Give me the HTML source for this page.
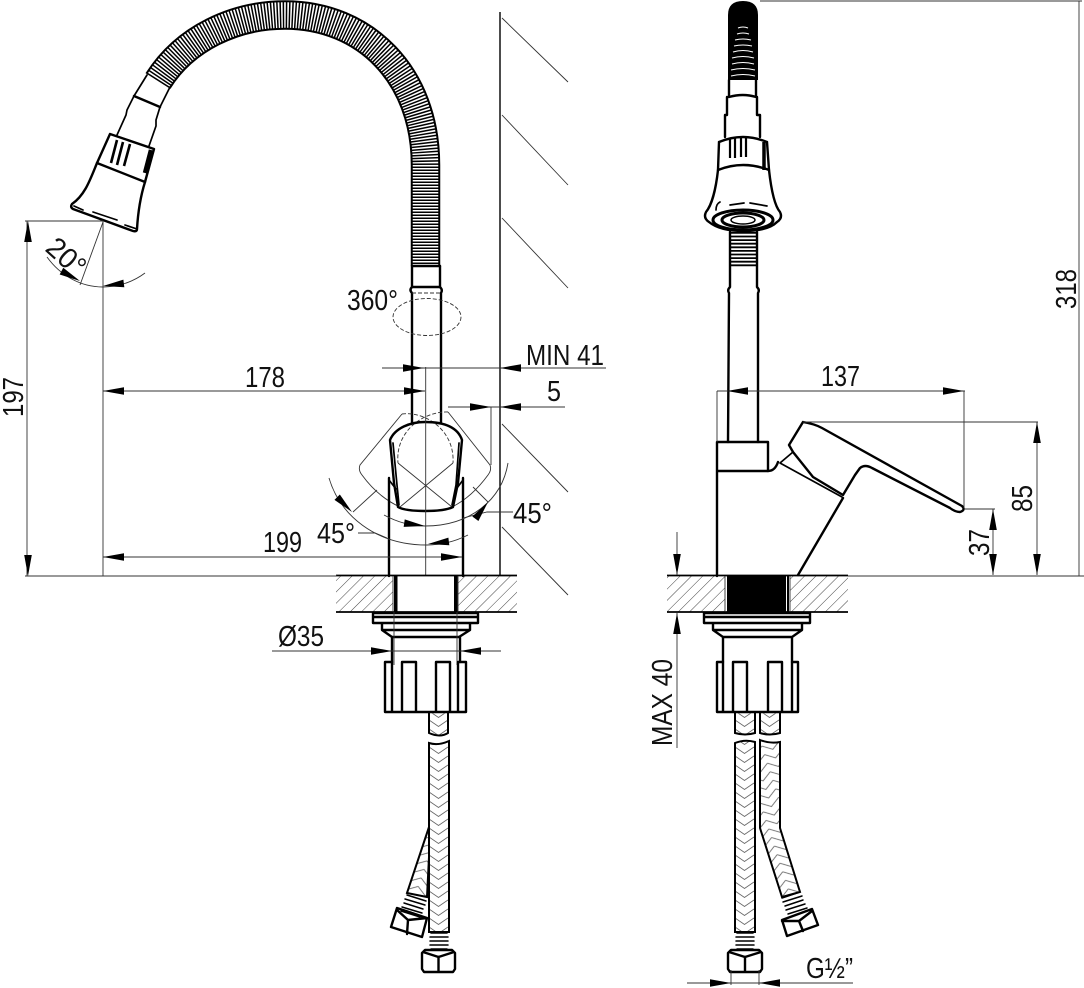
<!DOCTYPE html>
<html>
<head>
<meta charset="utf-8">
<style>
html,body{margin:0;padding:0;background:#fff;width:1084px;height:988px;overflow:hidden}
svg{display:block}
text{font-family:"Liberation Sans",sans-serif;font-size:29px;fill:#111}
.m{fill:none;stroke:#000;stroke-width:1.7;stroke-linejoin:round;stroke-linecap:round}
.b{fill:none;stroke:#000;stroke-width:2.4;stroke-linejoin:round;stroke-linecap:round}
.r{fill:none;stroke:#000;stroke-width:1.5;stroke-linecap:round}
.t{fill:none;stroke:#333;stroke-width:.9}
.d{fill:none;stroke:#333;stroke-width:.9;stroke-dasharray:4 2}
.br{stroke:#000;stroke-width:2}
</style>
</head>
<body>
<svg width="1084" height="988" viewBox="0 0 1084 988" xmlns="http://www.w3.org/2000/svg">
<defs>
<path id="a" d="M0,0L-21,-3.8L-21,3.8Z" fill="#000"/>
<pattern id="h" width="8" height="8" patternUnits="userSpaceOnUse" patternTransform="rotate(45)"><line x1="0" y1="0" x2="0" y2="8" stroke="#444" stroke-width="1"/></pattern>
<pattern id="bL" width="19" height="9" patternUnits="userSpaceOnUse" x="429"><path d="M0,0L9.5,6.5L19,0M0,9L9.5,15.5L19,9M0,-9L9.5,-2.5L19,-9" fill="none" stroke="#666" stroke-width=".9"/></pattern>
<pattern id="bA" width="19" height="9" patternUnits="userSpaceOnUse" x="735"><path d="M0,0L9.5,6.5L19,0M0,9L9.5,15.5L19,9M0,-9L9.5,-2.5L19,-9" fill="none" stroke="#666" stroke-width=".9"/></pattern>
<pattern id="bB" width="19" height="9" patternUnits="userSpaceOnUse" x="760"><path d="M0,0L9.5,6.5L19,0M0,9L9.5,15.5L19,9M0,-9L9.5,-2.5L19,-9" fill="none" stroke="#666" stroke-width=".9"/></pattern>
<pattern id="bC" width="19" height="9" patternUnits="userSpaceOnUse" patternTransform="rotate(19)"><path d="M0,0L9.5,6.5L19,0M0,9L9.5,15.5L19,9M0,-9L9.5,-2.5L19,-9" fill="none" stroke="#666" stroke-width=".9"/></pattern>
<pattern id="bD" width="19" height="9" patternUnits="userSpaceOnUse" patternTransform="rotate(-18)"><path d="M0,0L9.5,6.5L19,0M0,9L9.5,15.5L19,9M0,-9L9.5,-2.5L19,-9" fill="none" stroke="#666" stroke-width=".9"/></pattern>
</defs>

<!-- ===== LEFT VIEW ===== -->
<!-- flexible hose -->
<path d="M158,81C185,38 235,15 285,15C365,15 425.5,75 425.5,165L425.5,266" fill="none" stroke="#000" stroke-width="29.5"/>
<path d="M158,81C185,38 235,15 285,15C365,15 425.5,75 425.5,165L425.5,266" fill="none" stroke="#fff" stroke-width="25.5"/>
<path d="M158,81C185,38 235,15 285,15C365,15 425.5,75 425.5,165L425.5,266" fill="none" stroke="#000" stroke-width="27" stroke-dasharray="1.5 1.5"/>
<!-- neck -->
<path class="m" d="M147,75L134,96L127,110L126,115L117,135"/>
<path class="m" d="M170,87L160,107L156,120L156,126L149,146"/>
<path class="b" d="M134,96L160,107"/>
<!-- nut and bell -->
<path class="b" d="M110,134L154,149L145,182L97,163Z"/>
<path class="b" d="M97,163C90,180 85,195 72,204Q70,207 73,209L133,231Q137,232 137,229C138,212 140,198 145,182"/>
<path class="m" d="M74,206L83,210M93,212L117,220M125,225L137,229"/>
<path d="M117,140L111,163M123,142L117,165M130,144L124,166" stroke="#000" stroke-width="2.6" fill="none"/>
<path d="M151,150L145,173" stroke="#000" stroke-width="4.5" fill="none"/>
<!-- tube -->
<path class="b" d="M412,266L412,287Q409,290 412,293V423"/>
<path class="b" d="M440,266V287Q443,290 441,293V423"/>
<path class="b" d="M412,266H440M412,287H440"/>
<path class="d" d="M412,293H440"/>
<ellipse class="d" cx="427" cy="317" rx="34" ry="18.5"/>
<!-- dashed handle envelopes -->
<path class="t" d="M402,414L360,465Q358,470 362,475Q378,497 400,507L453,463"/>
<path class="t" d="M448,412L490,465Q492,470 488,475Q472,497 452,507L398,463"/>
<path class="d" d="M402,414C425,411 455,430 453,463M448,412C425,411 395,430 398,463"/>
<!-- body -->
<path class="b" d="M390,440C395,428 410,422 425,422C445,422 458,428 462,440L458,483L453,507Q445,511 425,511Q405,511 398,507L394,483L390,440Z"/>
<path class="m" d="M393,443L397,485L399,505M459,443L456,485L452,505"/>
<path class="b" d="M389,478V576M463,478V576"/>
<path class="m" d="M389,480L396,489M463,480L457,488"/>
<path class="t" d="M425.7,367V575"/>
<!-- wall -->
<path d="M500,12V576" stroke="#111" stroke-width="1.5"/>
<path class="t" d="M502,18L568,82M502,115L568,185M502,218L568,288M502,424L568,492M502,527L568,595"/>
<!-- counter top left -->
<rect x="336" y="576" width="57" height="36" fill="url(#h)"/>
<rect x="458" y="576" width="59" height="36" fill="url(#h)"/>
<path d="M336,575.5H517M336,612H517" stroke="#000" stroke-width="1.8"/>
<rect x="394" y="576" width="3.5" height="36" fill="#000"/>
<rect x="454" y="576" width="3.5" height="36" fill="#000"/>
<path class="t" d="M393,576V612M458,576V612"/>
<!-- flange -->
<path class="b" d="M373,613H478V623H373ZM373,617H478M382,623V630L392,637H459L470,630V623M382,630H470M392,637V662M460,637V662"/>
<path class="t" d="M394,612V665M457,612V665"/>
<path class="b" d="M385,662H392V712H385ZM402,662H416V712H402ZM436,662H450V712H436ZM458,662H466V712H458ZM385,712H466"/>
<!-- left hose -->
<path d="M429,712H448V733Q440,738 429,733Z" fill="url(#bL)" class="br"/>
<path d="M407,893L429,827V857L427,897Z" fill="url(#bC)" class="br"/>
<path d="M429,743Q438,746 449,741V932H429Z" fill="url(#bL)" class="br"/>
<path class="r" d="M431,933H447M430,937H448M430,941H448M430,945H448M431,949H447"/>
<path class="b" d="M425,950H452L455,953V969L453,972H424L422,969V953ZM423,952L438.5,957L454,952M438.5,957V972"/>
<path class="r" d="M407,895L426,901M405,899L425,905M404,903L423,909M402,907L422,913M401,911L420,917"/>
<path class="b" d="M397,908L427,918L422,937L391,927ZM397,910L408,920L427,918M408,920L407,934"/>

<!-- ===== RIGHT VIEW ===== -->
<!-- spout top -->
<path d="M728,80V15Q728,1 743,1Q758,1 758,15V80Z" fill="#000"/>
<path d="M738,28Q743,26 748,28M737,34Q743,32 749,34M735,40Q743,38 751,40M734,46Q743,44 752,46M733,52Q743,49 753,52M732,58Q743,55 754,58M732,64Q743,61 754,64M731,70Q743,67 755,70M731,76Q743,73 755,76" stroke="#fff" stroke-width="1.1" fill="none"/>
<path class="b" d="M729,80V97M756,80V97M729,97Q743,93 756,97M727,97V115M757,97V115M727,115H725M757,115H760M725,115V137M760,115V137"/>
<path class="b" d="M719,142Q743,132 767,142M719,142L718,170M767,142L769,170M718,170Q743,160 769,170"/>
<path d="M730,138V158M735,137V158M741,136V157M746,136V157" stroke="#000" stroke-width="2.2" fill="none"/>
<path d="M764,142V170" stroke="#000" stroke-width="3.5" fill="none"/>
<path class="b" d="M718,170C716,188 712,205 706,212Q703,218 709,222Q720,231 743,231Q768,231 777,222Q783,218 780,212C774,205 771,188 769,170"/>
<path class="m" d="M716,210Q716,204 720,202M730,205L744,203M750,203L767,206"/>
<ellipse cx="743" cy="220" rx="30" ry="10" fill="none" stroke="#000" stroke-width="3"/>
<ellipse cx="743" cy="220" rx="21" ry="7" fill="none" stroke="#000" stroke-width="3"/>
<ellipse cx="743" cy="220" rx="12" ry="4" fill="#fff" stroke="#000" stroke-width="1.5"/>
<path d="M743.5,232V267" fill="none" stroke="#000" stroke-width="27" stroke-dasharray="1.8 1.8"/>
<path class="b" d="M730,232V267M757,232V267M730,267V287Q727,290 729,293L728,442M757,267V287Q760,290 758,293V442"/>
<!-- head and body -->
<path class="b" d="M717,576V442H768V471H717"/>
<path class="b" d="M768,471Q775,471 778,462"/>
<path class="b" d="M843,498L798,575"/>
<path class="b" d="M789,445L803,422Q815,424 822,428L962,506Q966,510 960,512Q955,512 950,508L872,468Q865,464 860,468L855,475L843,495L813,477L793,452L789,445Z"/>
<path class="m" d="M793,452L780,463L842,497"/>
<!-- counter top right -->
<rect x="667" y="576" width="58" height="36" fill="url(#h)"/>
<rect x="790" y="576" width="58" height="36" fill="url(#h)"/>
<path d="M667,575.5H848M667,612H848" stroke="#000" stroke-width="1.8"/>
<rect x="727" y="576" width="59" height="36" fill="#000"/>
<path d="M788,576V612" stroke="#000" stroke-width="2"/>
<path class="t" d="M725,576V612M790,576V612"/>
<!-- flange right -->
<path class="b" d="M704,613H810V623H704ZM704,617H810M713,623V630L723,637H792L802,630V623M713,630H802M723,637V662M792,637V662"/>
<path class="b" d="M717,662H723V712H717ZM733,662H747V712H733ZM768,662H782V712H768ZM792,662H798V712H792ZM717,712H798"/>
<!-- right hoses -->
<path d="M735,712H755V733Q745,736 735,733Z" fill="url(#bA)" class="br"/>
<path d="M760,712H780V733Q770,736 760,733Z" fill="url(#bB)" class="br"/>
<path d="M735,743Q745,739 755,742V932H735Z" fill="url(#bA)" class="br"/>
<path d="M760,740Q770,744 780,742V828L800,892L782,897L760,828Z" fill="url(#bD)" class="br"/>
<path class="r" d="M737,933H753M736,937H754M736,941H754M736,945H754M737,949H753"/>
<path class="b" d="M731,950H759L762,953V969L760,972H730L728,969V953ZM729,952L745,957L761,952M745,957V972"/>
<path class="r" d="M782,898L800,892M783,902L802,896M785,906L803,900M786,910L805,904M788,914L807,908"/>
<path class="b" d="M782,920L812,909L818,925L787,936ZM782,921L799,921L812,911M799,921L803,931"/>

<!-- ===== DIMENSIONS ===== -->
<g class="t">
<path d="M25,221H103V576M27,221V576M25,576H337"/>
<path d="M103,222L80,285"/>
<path d="M47,257C60,275 80,287 103,287C118,287 133,282 145,273"/>
<path d="M103,391H425M382,368H606M448,407H565M491,407V465M103,557H462"/>
<path d="M329,478C340,515 375,545 427,545C442,545 456,541 468,535"/>
<path d="M384,515C397,522 410,526 425,526C470,526 502,500 508,463"/>
<path d="M513,512H487L463,518M358,533H375L387,538"/>
<path d="M353,512L377,490M473,487L488,502"/>
<path d="M272,651H501"/>
<path d="M717,391H965M717,391V442M964,391V508M803,422H1038M1037,422V575M965,509H995M993,509V575M848,576H1084M760,1H1082M1079,1V576"/>
<path d="M677,532V575M677,613V748"/>
<path d="M687,983H853M731,970V985M759,970V985"/>
</g>
<use href="#a" transform="translate(28,221) rotate(-90)"/>
<use href="#a" transform="translate(28,576) rotate(90)"/>
<use href="#a" transform="translate(103,391) rotate(180)"/>
<use href="#a" transform="translate(425,391)"/>
<use href="#a" transform="translate(424,368)"/>
<use href="#a" transform="translate(500,368) rotate(180)"/>
<use href="#a" transform="translate(491,407)"/>
<use href="#a" transform="translate(500,407) rotate(180)"/>
<use href="#a" transform="translate(103,557) rotate(180)"/>
<use href="#a" transform="translate(462,557)"/>
<use href="#a" transform="translate(80,281) rotate(28)"/>
<use href="#a" transform="translate(103,286) rotate(173)"/>
<use href="#a" transform="translate(352,512) rotate(45)"/>
<use href="#a" transform="translate(428,544) rotate(173)"/>
<use href="#a" transform="translate(425,526) rotate(8)"/>
<use href="#a" transform="translate(488,502) rotate(-53)"/>
<use href="#a" transform="translate(392,651)"/>
<use href="#a" transform="translate(460,651) rotate(180)"/>
<use href="#a" transform="translate(727,391) rotate(180)"/>
<use href="#a" transform="translate(964,391)"/>
<use href="#a" transform="translate(1037,422) rotate(-90)"/>
<use href="#a" transform="translate(1037,575) rotate(90)"/>
<use href="#a" transform="translate(993,509) rotate(-90)"/>
<use href="#a" transform="translate(993,575) rotate(90)"/>
<use href="#a" transform="translate(677,575) rotate(90)"/>
<use href="#a" transform="translate(677,613) rotate(-90)"/>
<use href="#a" transform="translate(731,983)"/>
<use href="#a" transform="translate(759,983) rotate(180)"/>

<!-- ===== LABELS ===== -->
<text x="347" y="310" textLength="51" lengthAdjust="spacingAndGlyphs">360°</text>
<text x="526" y="365" textLength="78" lengthAdjust="spacingAndGlyphs">MIN 41</text>
<text x="547" y="401" textLength="14" lengthAdjust="spacingAndGlyphs">5</text>
<text x="245" y="387" textLength="40" lengthAdjust="spacingAndGlyphs">178</text>
<text x="263" y="552" textLength="39" lengthAdjust="spacingAndGlyphs">199</text>
<text x="513" y="523" textLength="39" lengthAdjust="spacingAndGlyphs">45°</text>
<text x="317" y="543" textLength="38" lengthAdjust="spacingAndGlyphs">45°</text>
<text x="278" y="646" textLength="46" lengthAdjust="spacingAndGlyphs">Ø35</text>
<text x="821" y="386" textLength="39" lengthAdjust="spacingAndGlyphs">137</text>
<text x="806" y="978" textLength="47" lengthAdjust="spacingAndGlyphs">G½”</text>
<text transform="translate(23,417) rotate(-90)" textLength="40" lengthAdjust="spacingAndGlyphs">197</text>
<text transform="translate(1076,309) rotate(-90)" textLength="40" lengthAdjust="spacingAndGlyphs">318</text>
<text transform="translate(1032,512) rotate(-90)" textLength="27" lengthAdjust="spacingAndGlyphs">85</text>
<text transform="translate(989,556) rotate(-90)" textLength="27" lengthAdjust="spacingAndGlyphs">37</text>
<text transform="translate(672,746) rotate(-90)" textLength="87" lengthAdjust="spacingAndGlyphs">MAX 40</text>
<text transform="translate(44,250) rotate(42)" textLength="42" lengthAdjust="spacingAndGlyphs">20°</text>
</svg>
</body>
</html>
